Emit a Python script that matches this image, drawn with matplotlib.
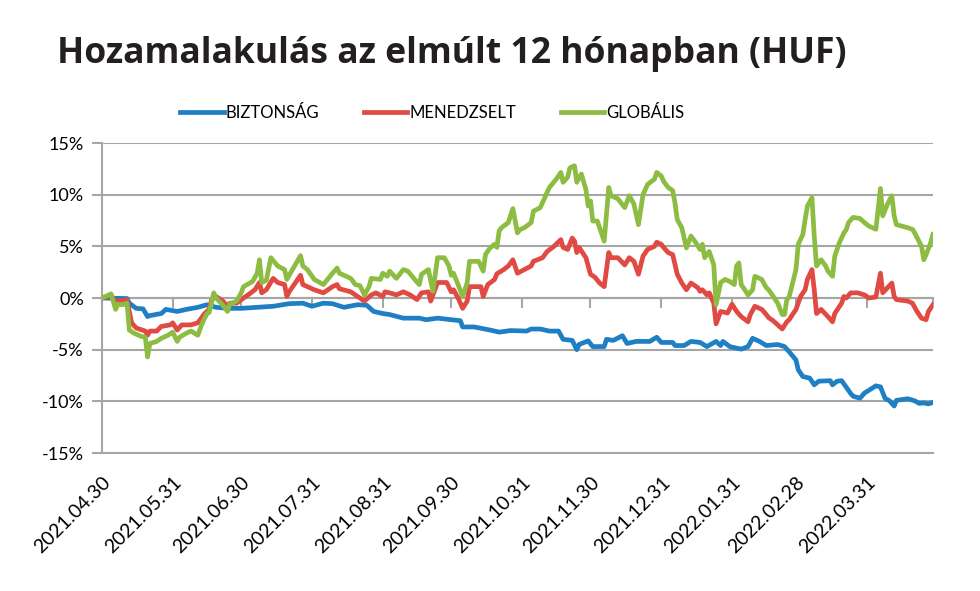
import matplotlib
matplotlib.use("Agg")
import matplotlib.pyplot as plt
import matplotlib.dates as mdates
from matplotlib.ticker import FuncFormatter
import pandas as pd

START = pd.Timestamp("2021-04-30")
END = pd.Timestamp("2022-04-29")

# days since 2021.04.30 and return in %
biz_days = [0, 11, 12, 15, 18, 20, 21, 26, 28, 33, 37, 42, 46, 50, 55, 61, 68, 75, 82, 88, 92, 97, 101, 106,
            112, 116, 119, 123, 126, 132, 139, 142, 147, 153, 157, 158, 163, 170, 174, 179, 186, 188, 192, 196,
            200, 202, 206, 208, 209, 213, 215, 220, 221, 224, 228, 230, 234, 240, 243, 245, 250, 251, 255, 258,
            262, 265, 269, 271, 272, 275, 280, 283, 285, 288, 291, 296, 299, 301, 304, 305, 307, 310, 312, 314,
            319, 320, 322, 324, 328, 329, 332, 334, 339, 341, 343, 345, 347, 348, 353, 356, 358, 360, 362, 364]
biz_vals = [0.0, -0.05, -0.5, -1.0, -1.05, -1.8, -1.7, -1.5, -1.1, -1.3, -1.1, -0.9, -0.65, -0.9, -1.0, -1.0,
            -0.9, -0.8, -0.55, -0.5, -0.8, -0.5, -0.55, -0.9, -0.65, -0.7, -1.3, -1.5, -1.6, -1.95, -1.95, -2.1,
            -1.95, -2.1, -2.2, -2.8, -2.8, -3.1, -3.3, -3.15, -3.2, -3.0, -3.0, -3.2, -3.2, -4.0, -4.1, -5.0,
            -4.5, -4.15, -4.7, -4.7, -4.0, -4.1, -3.65, -4.4, -4.2, -4.2, -3.8, -4.3, -4.3, -4.6, -4.6, -4.2,
            -4.3, -4.7, -4.2, -4.6, -4.2, -4.7, -4.95, -4.7, -3.9, -4.2, -4.6, -4.5, -4.7, -5.2, -6.0, -6.95,
            -7.6, -7.75, -8.4, -8.05, -8.0, -8.4, -8.05, -8.0, -9.25, -9.5, -9.7, -9.2, -8.5, -8.6, -9.7, -9.95,
            -10.45, -9.9, -9.75, -9.95, -10.2, -10.15, -10.25, -10.1]

men_days = [0, 4, 6, 11, 13, 15, 19, 20, 21, 24, 26, 30, 31, 33, 35, 39, 42, 45, 47, 48, 50, 53, 55, 56, 59,
            62, 64, 67, 69, 70, 72, 75, 77, 80, 81, 82, 87, 88, 93, 97, 101, 103, 104, 109, 112, 115, 118, 120,
            123, 124, 126, 129, 132, 135, 138, 140, 143, 144, 147, 151, 153, 154, 156, 158, 160, 161, 166, 167,
            169, 172, 173, 176, 178, 180, 182, 185, 188, 189, 193, 195, 198, 201, 202, 204, 206, 207, 208, 209,
            212, 214, 216, 218, 220, 222, 223, 226, 229, 231, 233, 235, 237, 239, 242, 243, 245, 246, 248, 250,
            252, 254, 256, 258, 261, 262, 263, 265, 266, 268, 269, 271, 274, 276, 278, 280, 283, 284, 286, 289,
            291, 292, 294, 296, 298, 300, 301, 304, 306, 308, 309, 311, 312, 313, 315, 318, 320, 321, 324, 325,
            326, 328, 331, 334, 336, 339, 341, 342, 346, 347, 348, 353, 355, 357, 359, 361, 362, 364]
men_vals = [0.0, 0.2, -0.3, -0.2, -2.4, -2.9, -3.2, -3.6, -3.2, -3.2, -2.75, -2.6, -2.4, -3.1, -2.6, -2.6,
            -2.4, -1.5, -1.1, -0.2, 0.15, -0.3, -0.8, -0.5, -0.5, 0.0, 0.3, 0.8, 1.5, 0.5, 0.8, 1.9, 1.5, 1.3,
            0.15, 0.6, 2.2, 1.3, 0.8, 0.5, 1.1, 1.3, 0.9, 0.6, 0.15, -0.3, 0.3, 0.5, 0.15, 0.6, 0.5, 0.3, 0.6,
            0.3, -0.15, 0.5, 0.6, -0.3, 1.5, 1.5, 0.6, 0.8, 0.0, -1.0, -0.3, 1.1, 1.1, 0.15, 1.3, 1.8, 2.35,
            2.75, 3.1, 3.7, 2.4, 2.75, 3.1, 3.55, 3.9, 4.5, 5.0, 5.65, 4.9, 4.7, 5.8, 5.5, 4.4, 4.9, 3.9, 2.3,
            2.0, 1.45, 1.1, 4.4, 3.9, 3.9, 3.2, 3.9, 3.55, 2.3, 4.05, 4.7, 5.0, 5.4, 5.2, 4.9, 4.4, 4.2, 2.3,
            1.45, 0.8, 1.45, 1.0, 0.65, 0.8, 0.3, 0.5, -0.5, -2.5, -1.3, -1.45, -0.6, -1.3, -1.8, -2.3, -1.6,
            -0.8, -1.1, -1.6, -1.9, -2.2, -2.6, -3.0, -2.3, -2.1, -1.1, 0.15, 0.8, 1.8, 2.75, 0.8, -1.5, -1.1,
            -1.8, -2.3, -1.5, -0.5, 0.15, 0.0, 0.5, 0.5, 0.3, 0.0, 0.1, 2.4, 0.5, 1.45, 0.15, -0.15, -0.3, -0.5,
            -1.3, -1.95, -2.1, -1.3, -0.65]

glob_days = [0, 4, 6, 7, 9, 11, 12, 14, 17, 19, 20, 21, 24, 26, 29, 31, 33, 34, 37, 39, 42, 44, 46, 47, 49,
             50, 53, 55, 56, 59, 61, 62, 66, 68, 69, 70, 72, 74, 77, 80, 81, 82, 87, 88, 90, 93, 97, 101, 103,
             104, 109, 111, 113, 115, 117, 118, 122, 123, 125, 126, 129, 132, 134, 137, 139, 140, 143, 145,
             147, 150, 152, 153, 154, 156, 158, 160, 161, 165, 167, 168, 170, 172, 173, 174, 175, 178, 180,
             181, 182, 183, 185, 188, 189, 192, 195, 196, 199, 201, 202, 204, 205, 207, 208, 210, 212, 213,
             214, 215, 217, 218, 220, 222, 223, 226, 229, 231, 233, 235, 237, 239, 242, 243, 245, 246, 248,
             250, 251, 252, 254, 256, 258, 260, 262, 263, 264, 266, 268, 269, 271, 273, 275, 277, 278, 279,
             280, 282, 283, 285, 286, 287, 289, 291, 292, 293, 296, 298, 299, 300, 301, 304, 305, 307, 308,
             309, 311, 312, 313, 315, 317, 318, 320, 321, 323, 325, 326, 327, 329, 332, 334, 336, 339, 340,
             341, 342, 344, 346, 347, 348, 353, 355, 356, 359, 360, 361, 363, 364]
glob_vals = [0.0, 0.4, -1.1, -0.6, -0.65, -0.5, -3.1, -3.4, -3.7, -3.8, -5.7, -4.4, -4.2, -3.9, -3.6, -3.3,
             -4.2, -3.8, -3.4, -3.2, -3.6, -2.4, -1.5, -1.4, 0.5, 0.0, -0.7, -1.3, -0.6, -0.3, 0.5, 1.1, 1.6,
             2.4, 3.7, 1.5, 1.7, 3.9, 3.1, 2.75, 1.8, 2.2, 4.1, 3.1, 2.75, 1.8, 1.3, 2.4, 2.9, 2.4, 1.9, 1.3,
             1.2, 0.3, 1.1, 1.9, 1.8, 2.4, 2.1, 2.6, 1.9, 2.75, 2.6, 1.8, 1.3, 2.3, 2.75, 0.65, 3.9, 3.9, 3.1,
             2.2, 2.4, 1.3, 0.15, 1.5, 3.55, 3.55, 2.6, 4.2, 4.85, 5.2, 4.9, 6.5, 6.8, 7.3, 8.65, 7.5, 6.3, 6.6,
             6.8, 7.3, 8.4, 8.75, 10.2, 10.7, 11.5, 12.15, 11.2, 11.7, 12.6, 12.8, 11.2, 12.0, 10.5, 8.9, 9.4,
             7.45, 7.45, 6.8, 5.5, 10.7, 9.9, 9.6, 8.75, 9.9, 9.1, 7.1, 10.0, 11.0, 11.5, 12.15, 11.8, 11.3,
             10.7, 10.4, 9.2, 7.6, 6.8, 4.85, 6.0, 5.4, 4.7, 5.2, 3.9, 4.5, 3.2, -0.65, 1.5, 1.8, 1.6, 1.3, 3.1,
             3.4, 1.3, 0.65, 0.3, 0.8, 2.1, 2.0, 1.8, 1.0, 0.8, 0.5, -0.5, -1.6, -1.6, -0.15, 0.1, 2.75, 5.2,
             6.15, 7.6, 8.9, 9.7, 6.0, 3.1, 3.7, 3.1, 2.6, 2.1, 4.05, 5.35, 6.3, 6.6, 7.3, 7.8, 7.7, 7.3, 6.95,
             6.65, 8.6, 10.6, 7.95, 9.05, 9.9, 7.95, 7.1, 6.8, 6.65, 6.3, 5.0, 3.7, 4.2, 5.35, 6.15]

series = [("BIZTONSÁG", biz_days, biz_vals, "#1f7fc4"),
          ("MENEDZSELT", men_days, men_vals, "#e04a42"),
          ("GLOBÁLIS", glob_days, glob_vals, "#8cbd42")]

tick_dates = ["2021-04-30", "2021-05-31", "2021-06-30", "2021-07-31", "2021-08-31", "2021-09-30",
              "2021-10-31", "2021-11-30", "2021-12-31", "2022-01-31", "2022-02-28", "2022-03-31"]
y_ticks = [-15, -10, -5, 0, 5, 10, 15]

GRID = "#a6a6a6"
plt.rcParams["font.family"] = ["Lato", "DejaVu Sans"]

fig = plt.figure(figsize=(9.8, 5.91), dpi=100)
ax = fig.add_axes([0.104, 0.2335, 0.848, 0.5245])

for name, days, vals, col in series:
    x = START + pd.to_timedelta(days, unit="D")
    ax.plot(x, vals, color=col, lw=3.4, label=name, solid_joinstyle="round", zorder=3)

ax.set_xlim(START, END)
ax.set_ylim(-15, 15)
ax.set_yticks(y_ticks)
ax.yaxis.set_major_formatter(FuncFormatter(lambda v, p: "%d%%" % v))
ax.grid(axis="y", color=GRID, lw=1.5, zorder=0)
ax.tick_params(axis="y", length=7, width=1.5, color=GRID, labelsize=13, pad=6)

# category axis crosses at 0 (ticks only), labels sit below the plot
ticks = [pd.Timestamp(d) for d in tick_dates] + [END]
ax.set_xticks(ticks)
ax.tick_params(axis="x", length=7, width=1.5, color=GRID, labelbottom=False)
ax.spines["bottom"].set_position(("data", 0))
for s in ["bottom", "left"]:
    ax.spines[s].set_color(GRID)
    ax.spines[s].set_linewidth(1.5)
for s in ["top", "right"]:
    ax.spines[s].set_visible(False)

sec = ax.secondary_xaxis(0)
sec.set_xticks([pd.Timestamp(d) for d in tick_dates])
sec.xaxis.set_major_formatter(mdates.DateFormatter("%Y.%m.%d"))
sec.tick_params(length=0, pad=15, labelsize=14)
sec.spines["bottom"].set_color(GRID)
sec.spines["bottom"].set_linewidth(1.5)
for lab in sec.get_xticklabels():
    lab.set_rotation(45)
    lab.set_ha("right")
    lab.set_rotation_mode("anchor")

fig.text(0.058, 0.893, "Hozamalakulás az elmúlt 12 hónapban (HUF)", fontsize=25.6,
         fontweight="bold", family=["Open Sans", "DejaVu Sans"], color="#231f20", va="baseline")

fig.legend(loc="center", bbox_to_anchor=(0.441, 0.809), ncol=3, frameon=False, fontsize=12,
           handlelength=2.6, handletextpad=0.1, columnspacing=2.7)

fig.savefig("out.png", dpi=100)
